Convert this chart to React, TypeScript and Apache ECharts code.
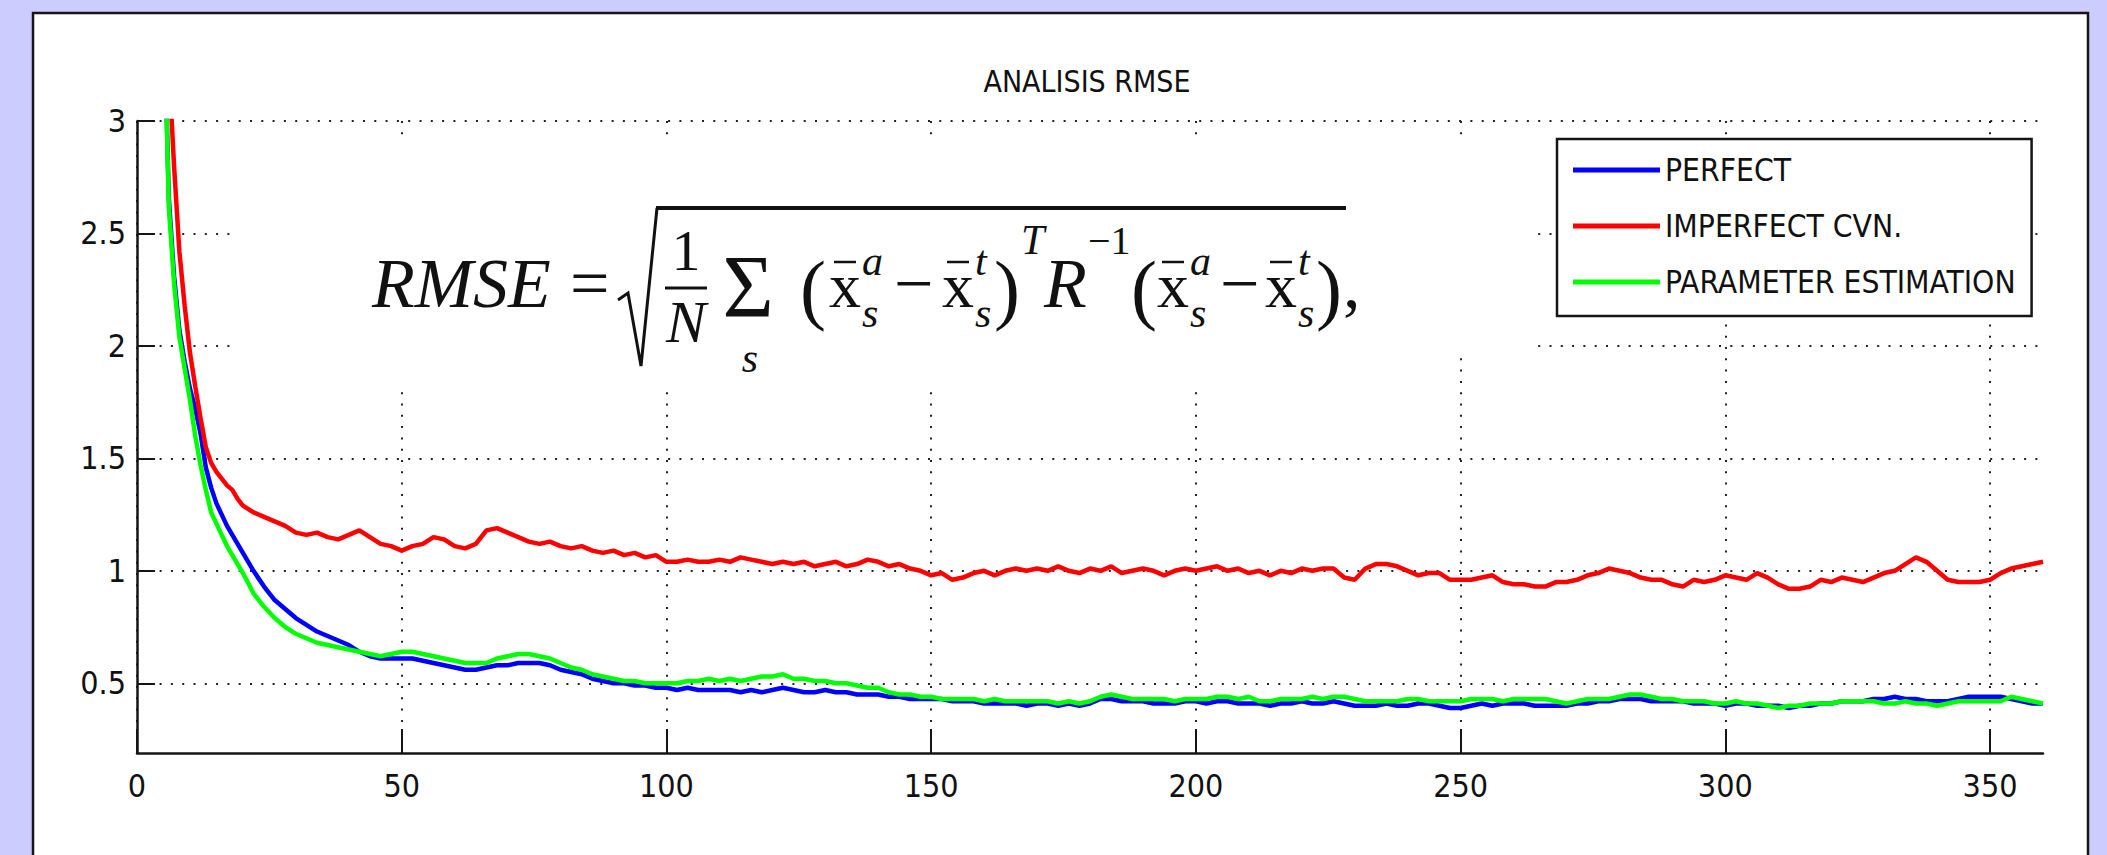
import React, { useEffect, useRef } from "react";
import * as echarts from "echarts";

// ---- chart data -------------------------------------------------------------
const TITLE = "ANALISIS RMSE";
const SERIES_NAMES = ["PERFECT", "IMPERFECT CVN.", "PARAMETER ESTIMATION"];
const SERIES_COLORS = ["#0000ff", "#ff0000", "#00ff00"];

const X_TICKS = [0, 50, 100, 150, 200, 250, 300, 350];
const Y_TICKS = [0.5, 1, 1.5, 2, 2.5, 3];
const X_MIN = 0;
const X_MAX = 360;
const Y_MIN = 0.19;
const Y_MAX = 3;

// sample positions: every step during the initial drop, then every 2 steps
const X_EARLY = [5, 6, 7, 8, 9, 10, 11, 12, 13, 14, 15, 16, 17, 18, 19, 20];
const X_LATE = Array.from({ length: 170 }, (_, i) => 22 + 2 * i);
const X_SAMPLES = [...X_EARLY, ...X_LATE];

const PERFECT = [
  3.6, 2.66, 2.31, 2.07, 1.93, 1.81, 1.72, 1.61, 1.46, 1.37, 1.3, 1.25, 1.2, 1.16, 1.12, 1.08,
  1.0, 0.93, 0.87, 0.83, 0.79, 0.76, 0.73, 0.71, 0.69, 0.67,
  0.64, 0.62, 0.61, 0.61, 0.61, 0.61, 0.6, 0.59, 0.58, 0.57,
  0.56, 0.56, 0.57, 0.58, 0.58, 0.59, 0.59, 0.59, 0.58, 0.56,
  0.55, 0.54, 0.52, 0.51, 0.5, 0.5, 0.49, 0.49, 0.48, 0.48,
  0.47, 0.48, 0.47, 0.47, 0.47, 0.47, 0.46, 0.47, 0.46, 0.47,
  0.48, 0.47, 0.46, 0.46, 0.47, 0.46, 0.46, 0.45, 0.45, 0.45,
  0.44, 0.44, 0.43, 0.43, 0.43, 0.43, 0.42, 0.42, 0.42, 0.41,
  0.41, 0.41, 0.41, 0.4, 0.41, 0.41, 0.4, 0.41, 0.4, 0.41,
  0.43, 0.43, 0.42, 0.42, 0.42, 0.41, 0.41, 0.41, 0.42, 0.42,
  0.41, 0.42, 0.42, 0.41, 0.41, 0.41, 0.4, 0.41, 0.41, 0.42,
  0.41, 0.41, 0.42, 0.41, 0.4, 0.4, 0.4, 0.41, 0.4, 0.4,
  0.41, 0.41, 0.4, 0.39, 0.39, 0.4, 0.41, 0.4, 0.41, 0.41,
  0.41, 0.4, 0.4, 0.4, 0.4, 0.41, 0.41, 0.42, 0.42, 0.43,
  0.43, 0.43, 0.42, 0.42, 0.42, 0.42, 0.41, 0.41, 0.41, 0.4,
  0.41, 0.41, 0.4, 0.4, 0.4, 0.39, 0.4, 0.4, 0.41, 0.41,
  0.42, 0.42, 0.42, 0.43, 0.43, 0.44, 0.43, 0.43, 0.42, 0.42,
  0.42, 0.43, 0.44, 0.44, 0.44, 0.44, 0.43, 0.42, 0.41, 0.41,
];

const IMPERFECT_CVN = [
  3.9, 3.25, 2.8, 2.42, 2.18, 1.97, 1.82, 1.68, 1.55, 1.48, 1.44, 1.41, 1.38, 1.36, 1.32, 1.29,
  1.26, 1.24, 1.22, 1.2, 1.17, 1.16, 1.17, 1.15, 1.14, 1.16,
  1.18, 1.15, 1.12, 1.11, 1.09, 1.11, 1.12, 1.15, 1.14, 1.11,
  1.1, 1.12, 1.18, 1.19, 1.17, 1.15, 1.13, 1.12, 1.13, 1.11,
  1.1, 1.11, 1.09, 1.08, 1.09, 1.07, 1.08, 1.06, 1.07, 1.04,
  1.04, 1.05, 1.04, 1.04, 1.05, 1.04, 1.06, 1.05, 1.04, 1.03,
  1.04, 1.03, 1.04, 1.02, 1.03, 1.04, 1.02, 1.03, 1.05, 1.04,
  1.02, 1.03, 1.01, 1.0, 0.98, 0.99, 0.96, 0.97, 0.99, 1.0,
  0.98, 1.0, 1.01, 1.0, 1.01, 1.0, 1.02, 1.0, 0.99, 1.01,
  1.0, 1.02, 0.99, 1.0, 1.01, 1.0, 0.98, 1.0, 1.01, 1.0,
  1.01, 1.02, 1.0, 1.01, 0.99, 1.0, 0.98, 1.0, 0.99, 1.01,
  1.0, 1.01, 1.01, 0.97, 0.96, 1.01, 1.03, 1.03, 1.02, 1.0,
  0.98, 0.99, 0.99, 0.96, 0.96, 0.96, 0.97, 0.98, 0.95, 0.94,
  0.94, 0.93, 0.93, 0.95, 0.95, 0.96, 0.98, 0.99, 1.01, 1.0,
  0.99, 0.97, 0.96, 0.96, 0.94, 0.93, 0.96, 0.95, 0.96, 0.98,
  0.97, 0.96, 0.99, 0.97, 0.94, 0.92, 0.92, 0.93, 0.96, 0.95,
  0.97, 0.96, 0.95, 0.97, 0.99, 1.0, 1.03, 1.06, 1.04, 1.0,
  0.96, 0.95, 0.95, 0.95, 0.96, 0.99, 1.01, 1.02, 1.03, 1.04,
];

const PARAMETER_ESTIMATION = [
  3.6, 2.62, 2.28, 2.04, 1.9, 1.76, 1.6, 1.47, 1.36, 1.26, 1.21, 1.16, 1.11, 1.07, 1.03, 0.99,
  0.9, 0.84, 0.79, 0.75, 0.72, 0.7, 0.68, 0.67, 0.66, 0.65,
  0.64, 0.63, 0.62, 0.63, 0.64, 0.64, 0.63, 0.62, 0.61, 0.6,
  0.59, 0.59, 0.59, 0.61, 0.62, 0.63, 0.63, 0.62, 0.61, 0.59,
  0.57, 0.56, 0.54, 0.53, 0.52, 0.51, 0.51, 0.5, 0.5, 0.5,
  0.5, 0.51, 0.51, 0.52, 0.51, 0.52, 0.51, 0.52, 0.53, 0.53,
  0.54, 0.52, 0.52, 0.51, 0.51, 0.5, 0.5, 0.49, 0.48, 0.48,
  0.46, 0.45, 0.45, 0.44, 0.44, 0.43, 0.43, 0.43, 0.43, 0.42,
  0.43, 0.42, 0.42, 0.42, 0.42, 0.42, 0.41, 0.42, 0.41, 0.42,
  0.44, 0.45, 0.44, 0.43, 0.43, 0.43, 0.43, 0.42, 0.43, 0.43,
  0.43, 0.44, 0.44, 0.43, 0.44, 0.42, 0.42, 0.43, 0.43, 0.43,
  0.44, 0.43, 0.44, 0.44, 0.43, 0.42, 0.42, 0.42, 0.42, 0.43,
  0.43, 0.42, 0.42, 0.42, 0.42, 0.43, 0.43, 0.43, 0.42, 0.43,
  0.43, 0.43, 0.43, 0.42, 0.41, 0.42, 0.43, 0.43, 0.43, 0.44,
  0.45, 0.45, 0.44, 0.43, 0.43, 0.42, 0.42, 0.42, 0.41, 0.41,
  0.42, 0.41, 0.41, 0.4, 0.39, 0.4, 0.4, 0.41, 0.41, 0.41,
  0.42, 0.42, 0.42, 0.42, 0.41, 0.41, 0.42, 0.41, 0.41, 0.4,
  0.41, 0.42, 0.42, 0.42, 0.42, 0.42, 0.44, 0.43, 0.42, 0.41,
];

const SERIES_VALUES = [PERFECT, IMPERFECT_CVN, PARAMETER_ESTIMATION];

// ---- styling ----------------------------------------------------------------
const NARROW =
  '"Liberation Sans Narrow", "Arial Narrow", "DejaVu Sans Condensed", "Liberation Sans", sans-serif';
const SERIF = '"Liberation Serif", "DejaVu Serif", serif';
const INK = "#151515";

type Piece = {
  text: string;
  x: number;
  y: number;
  size: number;
  italic?: boolean;
  align?: "left" | "center";
};

// the RMSE definition typeset piece by piece
const FORMULA_TEXT: Piece[] = [
  { text: "RMSE", x: 372, y: 283, size: 70, italic: true },
  { text: "=", x: 570, y: 283, size: 70 },
  { text: "1", x: 686, y: 250, size: 58, align: "center" },
  { text: "N", x: 686, y: 322, size: 60, italic: true, align: "center" },
  { text: "Σ", x: 748, y: 286, size: 88, align: "center" },
  { text: "s", x: 750, y: 358, size: 42, italic: true, align: "center" },
  { text: "(", x: 800, y: 288, size: 78 },
  { text: "x", x: 829, y: 285, size: 64 },
  { text: "a", x: 862, y: 261, size: 42, italic: true },
  { text: "s", x: 862, y: 313, size: 42, italic: true },
  { text: "−", x: 894, y: 283, size: 70 },
  { text: "x", x: 942, y: 285, size: 64 },
  { text: "t", x: 975, y: 261, size: 42, italic: true },
  { text: "s", x: 975, y: 313, size: 42, italic: true },
  { text: ")", x: 994, y: 288, size: 78 },
  { text: "T", x: 1021, y: 240, size: 42, italic: true },
  { text: "R", x: 1044, y: 283, size: 70, italic: true },
  { text: "−1", x: 1088, y: 240, size: 40 },
  { text: "(", x: 1131, y: 288, size: 78 },
  { text: "x", x: 1157, y: 285, size: 64 },
  { text: "a", x: 1190, y: 261, size: 42, italic: true },
  { text: "s", x: 1190, y: 313, size: 42, italic: true },
  { text: "−", x: 1220, y: 283, size: 70 },
  { text: "x", x: 1265, y: 285, size: 64 },
  { text: "t", x: 1298, y: 261, size: 42, italic: true },
  { text: "s", x: 1298, y: 313, size: 42, italic: true },
  { text: ")", x: 1316, y: 288, size: 78 },
  { text: ",", x: 1343, y: 283, size: 70 },
];
const BAR_XS = [829, 942, 1157, 1265];

function buildGraphics() {
  const els: any[] = [];
  // white figure panel
  els.push({
    type: "rect",
    silent: true,
    z: -10,
    shape: { x: 33, y: 13, width: 2055, height: 900 },
    style: { fill: "#ffffff", stroke: INK, lineWidth: 2.5 },
  });
  // opaque backing of the formula
  els.push({
    type: "rect",
    silent: true,
    z: 1,
    shape: { x: 238, y: 140, width: 1294, height: 212 },
    style: { fill: "#ffffff" },
  });
  els.push({
    type: "rect",
    silent: true,
    z: 1,
    shape: { x: 238, y: 140, width: 1122, height: 250 },
    style: { fill: "#ffffff" },
  });
  for (const p of FORMULA_TEXT) {
    els.push({
      type: "text",
      silent: true,
      z: 3,
      x: p.x,
      y: p.y,
      style: {
        text: p.text,
        fill: "#111",
        font: `${p.italic ? "italic " : ""}${p.size}px ${SERIF}`,
        textAlign: p.align || "left",
        textVerticalAlign: "middle",
      },
    });
  }
  // radical sign and its vinculum
  els.push({
    type: "polyline",
    silent: true,
    z: 3,
    shape: { points: [[618, 300], [628, 293], [641, 366], [657, 208]] },
    style: { stroke: "#111", lineWidth: 3, fill: null },
  });
  els.push({
    type: "line",
    silent: true,
    z: 3,
    shape: { x1: 656, y1: 208, x2: 1346, y2: 208 },
    style: { stroke: "#111", lineWidth: 4 },
  });
  // fraction bar
  els.push({
    type: "line",
    silent: true,
    z: 3,
    shape: { x1: 665, y1: 288, x2: 707, y2: 288 },
    style: { stroke: "#111", lineWidth: 3 },
  });
  // bars over the x vectors
  for (const bx of BAR_XS) {
    els.push({
      type: "line",
      silent: true,
      z: 3,
      shape: { x1: bx + 5, y1: 262, x2: bx + 27, y2: 262 },
      style: { stroke: "#111", lineWidth: 2.5 },
    });
  }
  return els;
}

function buildOption(): any {
  const axisFont = { fontFamily: NARROW, fontSize: 32, color: "#111" };
  const dotted = { color: "#222", width: 2, type: [2, 9.3] };
  return {
    animation: false,
    backgroundColor: "#ccccff",
    title: {
      text: TITLE,
      left: 1087,
      top: 66,
      padding: 0,
      textAlign: "center",
      textStyle: { fontFamily: NARROW, fontSize: 30, fontWeight: "normal", color: "#111" },
    },
    grid: { left: 137, top: 121, right: 64, bottom: 102, containLabel: false },
    legend: {
      orient: "vertical",
      left: 1557,
      top: 139,
      padding: [11, 16, 14, 16],
      itemGap: 16,
      itemWidth: 87,
      itemHeight: 5,
      icon: "rect",
      backgroundColor: "#ffffff",
      borderColor: INK,
      borderWidth: 2.5,
      borderRadius: 0,
      selectedMode: false,
      textStyle: { fontFamily: NARROW, fontSize: 31.5, color: "#111", lineHeight: 40 },
      data: SERIES_NAMES,
    },
    xAxis: {
      type: "value",
      min: X_MIN,
      max: X_MAX,
      axisLine: { onZero: false, lineStyle: { color: INK, width: 2.5 } },
      axisTick: { inside: true, length: 24, lineStyle: { color: INK, width: 2 }, customValues: X_TICKS },
      axisLabel: { ...axisFont, margin: 17, customValues: X_TICKS },
      splitLine: { show: true, lineStyle: dotted },
    },
    yAxis: {
      type: "value",
      min: Y_MIN,
      max: Y_MAX,
      axisLine: { show: true, onZero: false, lineStyle: { color: INK, width: 2.5 } },
      axisTick: { show: true, inside: true, length: 18, lineStyle: { color: INK, width: 2 }, customValues: Y_TICKS },
      axisLabel: { ...axisFont, margin: 11, customValues: Y_TICKS },
      splitLine: { show: true, lineStyle: dotted },
    },
    series: SERIES_NAMES.map((name, k) => ({
      type: "line",
      name,
      data: X_SAMPLES.map((x, i) => [x, SERIES_VALUES[k][i]]),
      symbol: "none",
      showSymbol: false,
      clip: true,
      silent: true,
      z: 2,
      lineStyle: { color: SERIES_COLORS[k], width: 4.5 },
      itemStyle: { color: SERIES_COLORS[k] },
    })),
    graphic: { elements: buildGraphics() },
  };
}

export default function App() {
  const ref = useRef<HTMLDivElement>(null);
  useEffect(() => {
    if (!ref.current) return;
    const chart = echarts.init(ref.current, undefined, { renderer: "svg" });
    chart.setOption(buildOption());
    return () => chart.dispose();
  }, []);
  return (
    <div
      ref={ref}
      style={{ position: "absolute", left: 0, top: 0, width: 2107, height: 855 }}
    />
  );
}
